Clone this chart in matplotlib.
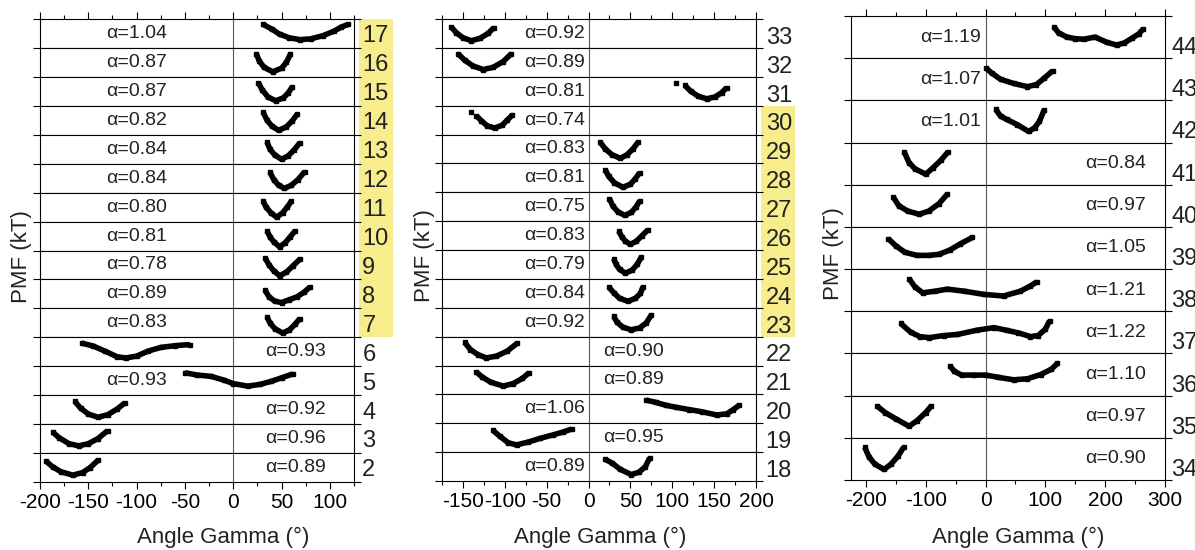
import numpy as np
import matplotlib
matplotlib.use("Agg")
import matplotlib.pyplot as plt
from matplotlib.patches import Rectangle
from matplotlib.ticker import MultipleLocator

plt.rcParams["font.family"] = ["Liberation Sans", "DejaVu Sans"]
plt.rcParams["axes.unicode_minus"] = False

nan = np.nan

# ---- left panel, strips top -> bottom
A_RES = [17, 16, 15, 14, 13, 12, 11, 10, 9, 8, 7, 6, 5, 4, 3, 2]
A_ALPHA = ["1.04", "0.87", "0.87", "0.82", "0.84", "0.84", "0.80", "0.81",
           "0.78", "0.89", "0.83", "0.93", "0.93", "0.92", "0.96", "0.89"]
A_GAMMA = [
    [31, 40, 48, 58, 69, 80, 93, 104, 112, 119],
    [24, 27, 32, 41, 50, 55, 59],
    [26, 30, 36, 44, 52, 57, 61],
    [31, 35, 40, 47, 55, 61, 66],
    [35, 38, 43, 50, 57, 63, 69],
    [38, 42, 47, 53, 60, 67, 74],
    [31, 34, 39, 45, 51, 56, 60],
    [35, 38, 42, 48, 54, 59, 64],
    [33, 37, 42, 48, 55, 62, 69],
    [33, 37, 43, 50, 58, 66, 73, 79],
    [35, 38, 43, 51, 58, 64, 69],
    [-157, -145, -133, -120, -111, -100, -88, -75, -60, -45],
    [-50, -38, -23, -10, 0, 15, 28, 39, 50, 62],
    [-164, -158, -150, -140, -130, -120, -112],
    [-187, -180, -170, -160, -150, -140, -130],
    [-194, -187, -178, -166, -156, -148, -140],
]
A_PMF = [
    [3.25, 2.6, 1.9, 1.4, 1.15, 1.25, 1.7, 2.3, 2.9, 3.25],
    [3.15, 2.2, 1.3, 0.7, 1.2, 2.0, 3.1],
    [3.2, 2.2, 1.2, 0.7, 1.1, 1.8, 2.6],
    [3.1, 2.0, 1.2, 0.6, 1.1, 1.9, 2.8],
    [3.0, 2.0, 1.2, 0.6, 1.1, 1.9, 2.9],
    [2.8, 1.8, 1.0, 0.6, 1.0, 1.8, 2.9],
    [2.8, 2.0, 1.2, 0.6, 1.2, 2.0, 2.8],
    [2.7, 1.9, 1.2, 0.5, 1.1, 1.9, 2.7],
    [3.0, 2.0, 1.2, 0.5, 1.0, 1.9, 2.8],
    [2.5, 1.6, 1.0, 0.8, 1.2, 1.6, 2.2, 2.9],
    [2.8, 2.0, 1.2, 0.6, 1.0, 1.8, 2.6],
    [3.2, 2.8, 2.1, 1.3, 1.15, 1.4, 2.1, 2.6, 2.85, 3.0],
    [3.1, 2.8, 2.6, 2.1, 1.6, 1.25, 1.5, 1.9, 2.4, 2.95],
    [3.15, 2.2, 1.4, 0.95, 1.3, 2.1, 2.95],
    [2.9, 2.1, 1.3, 1.0, 1.3, 2.0, 3.1],
    [2.9, 2.1, 1.4, 0.95, 1.3, 2.0, 3.0],
]
A_HIGHLIGHT = [17, 16, 15, 14, 13, 12, 11, 10, 9, 8, 7]

# ---- middle panel
B_RES = [33, 32, 31, 30, 29, 28, 27, 26, 25, 24, 23, 22, 21, 20, 19, 18]
B_ALPHA = ["0.92", "0.89", "0.81", "0.74", "0.83", "0.81", "0.75", "0.83",
           "0.79", "0.84", "0.92", "0.90", "0.89", "1.06", "0.95", "0.89"]
B_GAMMA = [
    [-164, -158, -150, -140, -130, -120, -113],
    [-156, -148, -138, -126, -114, -102, -92],
    [105, nan, 115, 122, 131, 141, 151, 159, 165],
    [-140, nan, -134, -128, -121, -112, -103, -97, -91],
    [14, 20, 28, 38, 46, 53, 59],
    [20, 24, 31, 41, 50, 56, 61],
    [25, 29, 35, 43, 51, 57, 61],
    [36, 40, 44, 50, 57, 64, 71],
    [30, 33, 37, 44, 52, 58, 63],
    [24, 30, 37, 47, 56, 62, 65],
    [30, 34, 41, 51, 61, 69, 75],
    [-148, -141, -132, -122, -110, -97, -85],
    [-134, -127, -117, -102, -90, -79, -71],
    [69, 80, 92, 105, 120, 135, 153, 165, 173, 180],
    [-114, -106, -96, -86, -72, -58, -42, -30, -20],
    [20, 28, 38, 51, 60, 68, 73],
]
B_PMF = [
    [2.9, 2.1, 1.4, 1.0, 1.3, 2.0, 2.8],
    [3.2, 2.3, 1.5, 1.0, 1.3, 2.1, 3.2],
    [3.1, nan, 2.8, 2.0, 1.3, 0.95, 1.2, 1.8, 2.5],
    [3.1, nan, 2.6, 1.9, 1.2, 0.9, 1.3, 2.0, 2.7],
    [2.9, 2.0, 1.2, 0.7, 1.2, 2.0, 2.9],
    [3.1, 2.2, 1.3, 0.7, 1.1, 1.9, 2.7],
    [3.1, 2.1, 1.3, 0.8, 1.2, 2.0, 2.8],
    [2.6, 1.8, 1.2, 0.8, 1.2, 2.0, 2.8],
    [2.8, 2.0, 1.3, 0.8, 1.2, 2.0, 3.0],
    [2.9, 2.1, 1.3, 0.9, 1.3, 2.0, 2.9],
    [2.8, 2.0, 1.3, 0.95, 1.2, 1.9, 3.0],
    [3.2, 2.2, 1.5, 1.05, 1.3, 2.0, 3.1],
    [3.1, 2.4, 1.7, 1.15, 1.5, 2.2, 3.0],
    [3.2, 2.9, 2.5, 2.2, 1.9, 1.6, 1.15, 1.3, 1.9, 2.5],
    [3.0, 2.2, 1.3, 1.0, 1.4, 1.9, 2.4, 2.8, 3.2],
    [3.0, 2.5, 1.6, 0.9, 1.2, 2.0, 3.2],
]
B_HIGHLIGHT = [30, 29, 28, 27, 26, 25, 24, 23]

# ---- right panel
C_RES = [44, 43, 42, 41, 40, 39, 38, 37, 36, 35, 34]
C_ALPHA = ["1.19", "1.07", "1.01", "0.84", "0.97", "1.05", "1.21", "1.22",
           "1.10", "0.97", "0.90"]
C_GAMMA = [
    [114, 122, 136, 150, 164, 183, 203, 219, 232, 245, 256, 264],
    [0, 10, 25, 47, 70, 85, 98, 112],
    [17, 25, 35, 53, 72, 82, 90, 98],
    [-136, -128, -118, -100, -88, -75, -63],
    [-154, -145, -130, -111, -95, -78, -64],
    [-163, -150, -135, -115, -95, -78, -60, -42, -22],
    [-128, -118, -105, -85, -64, -35, -3, 30, 58, 75, 86],
    [-142, -125, -110, -94, -70, -47, -15, 14, 35, 55, 75, 88, 100, 107],
    [-60, -52, -40, -20, 0, 20, 47, 70, 92, 110, 120],
    [-181, -168, -150, -128, -115, -100, -91],
    [-202, -195, -185, -170, -158, -146, -137],
]
C_PMF = [
    [3.0, 2.4, 2.0, 1.85, 1.8, 2.0, 1.5, 1.25, 1.45, 1.9, 2.3, 2.8],
    [3.1, 2.6, 2.0, 1.6, 1.3, 1.5, 2.1, 2.8],
    [3.15, 2.5, 2.2, 1.7, 1.05, 1.4, 2.0, 3.1],
    [3.1, 2.1, 1.5, 1.0, 1.6, 2.3, 3.1],
    [2.8, 2.0, 1.5, 1.2, 1.5, 2.2, 3.1],
    [2.9, 2.2, 1.6, 1.3, 1.3, 1.4, 1.8, 2.4, 3.0],
    [3.1, 2.3, 1.75, 1.9, 2.1, 1.9, 1.6, 1.45, 1.9, 2.4, 2.8],
    [2.85, 2.0, 1.6, 1.5, 1.7, 1.8, 2.2, 2.45, 2.2, 1.95, 1.6, 1.7, 2.3, 3.1],
    [2.85, 2.3, 1.95, 1.95, 1.95, 1.75, 1.5, 1.6, 2.0, 2.5, 3.05],
    [3.0, 2.4, 1.8, 1.1, 1.6, 2.4, 3.0],
    [3.1, 2.2, 1.5, 1.0, 1.5, 2.3, 3.1],
]

W, H = 1195, 550
YELLOW = "#f8ed8c"
fig = plt.figure(figsize=(W / 100, H / 100), dpi=100)


def draw_panel(box, xlim, major, minor, res, alphas, gammas, pmfs, spot,
               highlight, num_frac, num_dx, xlab_x):
    l, t, r, b = box  # pixels
    n = len(res)
    h = (b - t) / n
    for i in range(n):
        y0 = t + i * h
        ax = fig.add_axes([l / W, 1 - (y0 + h) / H, (r - l) / W, h / H])
        ax.set_xlim(*xlim)
        ax.set_ylim(0, 4)
        ax.axvline(0, color="0.35", lw=0.8, zorder=1)
        ax.plot(gammas[i], pmfs[i], color="k", lw=4, marker="s", ms=3.5,
                solid_capstyle="butt", solid_joinstyle="round", zorder=3)
        ha, gx = spot(res[i])
        ax.text(gx, 2.0, "\u03b1=" + alphas[i], ha=ha, va="center",
                fontsize=14, color="#222222")
        ax.annotate(str(res[i]), xy=(1, num_frac), xycoords="axes fraction",
                    xytext=(num_dx, 0), textcoords="offset points",
                    ha="left", va="center", fontsize=17, color="#222222",
                    annotation_clip=False)

        for s in ax.spines.values():
            s.set_linewidth(0.8)
        ax.set_yticks([0, 4] if i == 0 else [0])
        ax.tick_params(axis="y", left=True, right=True, direction="out",
                       length=5, width=0.8, labelleft=False)
        ax.xaxis.set_major_locator(MultipleLocator(major))
        ax.xaxis.set_minor_locator(MultipleLocator(minor))
        first, last = i == 0, i == n - 1
        ax.tick_params(axis="x", which="both", direction="out", width=0.8,
                       bottom=last, top=first, labelbottom=last,
                       labeltop=False, labelsize=15, pad=3)
        ax.tick_params(axis="x", which="major", length=5)
        ax.tick_params(axis="x", which="minor", length=3)

    # yellow block behind the highlighted strip numbers
    if highlight:
        i0 = res.index(highlight[0])
        i1 = res.index(highlight[-1])
        ytop = t + i0 * h
        ybot = t + (i1 + 1) * h
        fig.add_artist(Rectangle(((r + 5) / W, 1 - ybot / H), 34 / W,
                                 (ybot - ytop) / H, transform=fig.transFigure,
                                 color=YELLOW, zorder=-1, lw=0))

    fig.text((l - 18) / W, 1 - ((t + b) / 2 + 6) / H, "PMF (kT)",
             rotation=90, ha="center", va="center", fontsize=16,
             color="#222222")
    fig.text(xlab_x / W, 1 - 537 / H, "Angle Gamma (\u00b0)", ha="center",
             va="center", fontsize=16, color="#222222")


def spot_a(k):
    return ("center", 64) if k in (6, 4, 3, 2) else ("center", -100)


def spot_b(k):
    return ("left", 18) if k in (22, 21, 19) else ("right", -4)


def spot_c(k):
    return ("right", -8) if k in (44, 43, 42) else ("center", 217)


draw_panel((40, 19, 354, 482), (-200, 125), 50, 25, A_RES, A_ALPHA,
           A_GAMMA, A_PMF, spot_a, A_HIGHLIGHT, 0.4, 6, 223)
draw_panel((442, 19, 756, 481), (-175, 200), 50, 25, B_RES, B_ALPHA,
           B_GAMMA, B_PMF, spot_b, B_HIGHLIGHT, 0.35, 7, 600)
draw_panel((851, 16, 1165, 480), (-225, 300), 100, 50, C_RES, C_ALPHA,
           C_GAMMA, C_PMF, spot_c, None, 0.24, 4.5, 1018)

fig.savefig("out.png", dpi=100)
